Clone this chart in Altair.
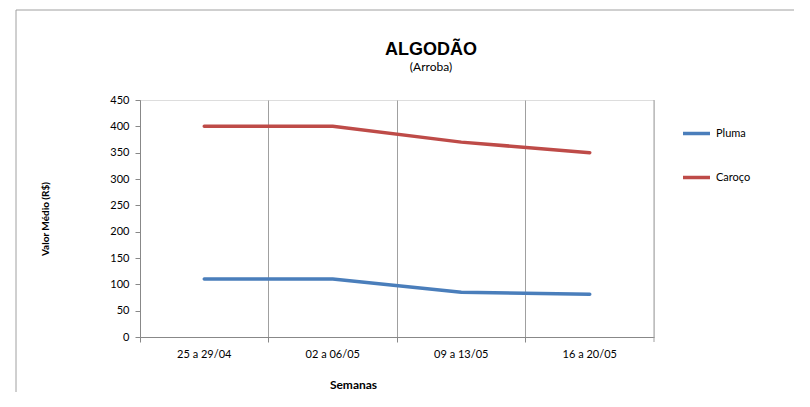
import altair as alt
import pandas as pd

weeks = ["25 a 29/04", "02 a 06/05", "09 a 13/05", "16 a 20/05"]
pluma = [110, 110, 85, 81]
caroco = [400, 400, 370, 350]
series = ["Pluma", "Caroço"]
colors = ["#4A7EBB", "#BE4B48"]
y_ticks = [0, 50, 100, 150, 200, 250, 300, 350, 400, 450]
title_text = "ALGODÃO"
subtitle_text = "(Arroba)"

rows = []
for w, p, c in zip(weeks, pluma, caroco):
    rows.append({"Semana": w, "Série": "Pluma", "Valor": p})
    rows.append({"Semana": w, "Série": "Caroço", "Valor": c})
df = pd.DataFrame(rows)
one = pd.DataFrame({"title": [title_text], "subtitle": [subtitle_text]})

W, H = 514, 237
lab_font = "Lato"

lines = alt.Chart(df).mark_line(strokeWidth=3.5, strokeCap="round").encode(
    x=alt.X("Semana:N", sort=weeks, bandPosition=0.5,
            scale=alt.Scale(type="band", paddingInner=0, paddingOuter=0),
            axis=alt.Axis(title="Semanas", labelAngle=0, grid=True, bandPosition=0,
                          gridColor="#A0A0A0", gridWidth=1,
                          domainColor="#888888", tickColor="#888888", tickSize=5,
                          labelFont=lab_font, labelFontSize=11, labelColor="#000000",
                          labelPadding=6,
                          titleFont="Lato", titleFontWeight="bold", titleFontSize=12,
                          titleX=213, titleY=47, titleBaseline="middle")),
    y=alt.Y("Valor:Q", scale=alt.Scale(domain=[0, 450], nice=False),
            axis=alt.Axis(title="Valor Médio (R$)", values=y_ticks, grid=False,
                          domainColor="#888888", tickColor="#888888", tickSize=5,
                          labelFont=lab_font, labelFontSize=11, labelColor="#000000",
                          labelPadding=6,
                          titleFont="Lato", titleFontWeight="bold", titleFontSize=10,
                          titleX=-95, titleY=H / 2, titleAlign="center",
                          titleBaseline="middle")),
    color=alt.Color("Série:N", scale=alt.Scale(domain=series, range=colors),
                    legend=alt.Legend(title=None, orient="none", legendX=541, legendY=18,
                                      symbolType="stroke", symbolSize=729,
                                      symbolStrokeWidth=3.5, labelFont=lab_font,
                                      labelFontSize=11, labelColor="#000000",
                                      labelOffset=4, rowPadding=21)),
)

right_grid = alt.Chart(one).mark_rule(color="#A0A0A0", strokeWidth=1).encode(
    x=alt.value(W), y=alt.value(0), y2=alt.value(H + 5))

frame_left = alt.Chart(one).mark_rule(color="#A0A0A0", strokeWidth=1).encode(
    x=alt.value(-124), y=alt.value(-90), y2=alt.value(400))
frame_top = alt.Chart(one).mark_rule(color="#A0A0A0", strokeWidth=1).encode(
    x=alt.value(-124), x2=alt.value(800), y=alt.value(-90))

title = alt.Chart(one).mark_text(font="Liberation Sans", fontSize=18, fontWeight="bold",
                                 color="#000000", align="center",
                                 baseline="alphabetic").encode(
    x=alt.value(291), y=alt.value(-45), text="title:N")
subtitle = alt.Chart(one).mark_text(font=lab_font, fontSize=12, fontWeight="normal",
                                    color="#000000", align="center",
                                    baseline="alphabetic").encode(
    x=alt.value(291), y=alt.value(-29), text="subtitle:N")

chart = alt.layer(right_grid, lines, frame_left, frame_top, title, subtitle).properties(
    width=W, height=H,
    autosize=alt.AutoSizeParams(type="none"),
    padding={"left": 132, "top": 92, "right": 140, "bottom": 55},
).configure_view(stroke=None).configure(background="white")

chart.save("out.html", embed_options={"renderer": "svg", "actions": False})
